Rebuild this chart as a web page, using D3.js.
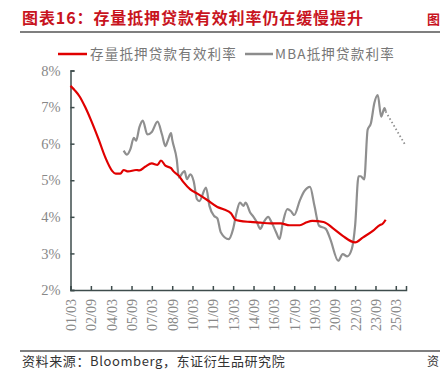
<!DOCTYPE html>
<html><head><meta charset="utf-8">
<script src="https://cdn.jsdelivr.net/npm/d3@7"></script>
<style>body{margin:0;background:#fff}svg{display:block}</style>
</head><body>
<svg id="c" width="440" height="379"></svg>
<script>
const seriesNames = ["存量抵押贷款有效利率", "MBA抵押贷款利率"];
const tickLabels = ["01/03","02/09","04/03","05/09","07/03","08/09","10/03","11/09","13/03","14/09","16/03","17/09","19/03","20/09","22/03","23/09","25/03"];
const yTicks = [2,3,4,5,6,7,8];
const effDates = ["2001-03","2001-07","2001-11","2002-04","2002-09","2003-04","2003-10","2004-04","2004-07","2004-11","2005-02","2005-06","2006-01","2006-04","2006-09","2007-03","2007-08","2007-11","2008-03","2008-08","2008-10","2009-03","2009-07","2010-01","2010-08","2011-04","2012-01","2012-07","2013-01","2013-05","2013-09","2014-06","2015-03","2015-12","2016-09","2017-05","2018-02","2018-08","2019-01","2019-11","2020-08","2021-04","2022-03","2022-10","2023-07","2024-01","2024-03","2024-06"];
const effValues = [7.58,7.45,7.29,7.0,6.65,6.11,5.61,5.25,5.18,5.18,5.28,5.24,5.28,5.27,5.37,5.46,5.42,5.54,5.40,5.33,5.25,5.12,4.95,4.75,4.62,4.46,4.27,4.2,4.10,3.92,3.89,3.86,3.84,3.82,3.82,3.77,3.77,3.85,3.89,3.86,3.67,3.48,3.30,3.44,3.62,3.78,3.80,3.92];
const mbaDates = ["2005-02","2005-05","2005-08","2005-11","2006-01","2006-04","2006-07","2006-11","2007-03","2007-08","2007-12","2008-03","2008-05","2008-08","2008-09","2009-01","2009-03","2009-06","2009-08","2009-10","2010-01","2010-04","2010-07","2010-09","2011-03","2011-06","2011-10","2012-01","2012-04","2012-11","2013-03","2013-06","2013-09","2013-12","2014-02","2014-06","2014-09","2014-12","2015-03","2015-06","2015-10","2016-01","2016-05","2016-08","2016-11","2017-03","2017-06","2017-09","2018-02","2018-06","2018-11","2019-03","2019-07","2020-01","2020-05","2020-12","2021-04","2021-08","2021-12","2022-03","2022-06","2022-08","2022-11","2023-02","2023-05","2023-08","2023-11","2024-02","2024-05","2024-06"];
const mbaValues = [5.81,5.70,5.85,6.16,6.08,6.45,6.63,6.25,6.32,6.60,6.25,5.93,6.07,6.29,6.11,5.57,5.07,5.20,5.25,5.03,5.16,4.98,4.48,4.43,4.80,4.30,4.03,3.96,3.58,3.39,3.67,4.12,4.39,4.30,4.39,4.12,4.00,3.85,3.67,3.85,4.00,3.85,3.58,3.39,3.85,4.21,4.16,4.05,4.45,4.70,4.82,4.30,3.76,3.67,3.39,2.80,2.98,2.92,3.12,3.76,5.11,5.11,5.02,6.38,6.56,7.11,7.33,6.74,6.97,6.88];
const mbaFcDates = ["2024-06","2025-11"];
const mbaFcValues = [6.88,5.98];

const parse = d3.timeParse("%Y-%m");
const svg = d3.select("#c");
const x = d3.scaleTime().domain([parse("2001-03"), parse("2025-12")]).range([70.5, 406]);
const y = d3.scaleLinear().domain([2, 8]).range([290, 70.5]);
const axisColor = "#3e4c4c";
const serif = "'Liberation Serif','DejaVu Serif',serif";
const cjk = "'Noto Sans CJK SC','Noto Sans',sans-serif";

// title
svg.append("text").attr("x", 22).attr("y", 24).attr("fill", "#c8141e")
  .attr("font-family", cjk).attr("font-weight", "bold").attr("font-size", 16).attr("letter-spacing", 0.9)
  .text("图表16：存量抵押贷款有效利率仍在缓慢提升");
svg.append("text").attr("x", 427).attr("y", 24).attr("fill", "#c8141e")
  .attr("font-family", cjk).attr("font-weight", "bold").attr("font-size", 13).text("图");
svg.append("line").attr("x1", 20).attr("x2", 440).attr("y1", 32).attr("y2", 32)
  .attr("stroke", "#555").attr("stroke-width", 1.5);

// legend
const lg = svg.append("g");
lg.append("line").attr("x1", 58).attr("x2", 87).attr("y1", 54).attr("y2", 54).attr("stroke", "#e00000").attr("stroke-width", 2.5);
lg.append("text").attr("x", 90).attr("y", 54).attr("dy", "0.35em").attr("fill", "#777").attr("font-family", cjk).attr("font-size", 13.5).attr("letter-spacing", 1.2).text(seriesNames[0]);
lg.append("line").attr("x1", 245).attr("x2", 273).attr("y1", 54).attr("y2", 54).attr("stroke", "#8c8c8c").attr("stroke-width", 2.5);
lg.append("text").attr("x", 275).attr("y", 54).attr("dy", "0.35em").attr("fill", "#777").attr("font-family", cjk).attr("font-size", 13.5).attr("letter-spacing", 1.2).text(seriesNames[1]);

// y axis
const yAxis = svg.append("g").attr("transform", "translate(70.5,0)")
  .call(d3.axisLeft(y).tickValues(yTicks).tickSize(-4).tickPadding(10).tickFormat(d => d + "%"));
yAxis.select(".domain").attr("stroke", axisColor).attr("stroke-width", 1.5);
yAxis.selectAll(".tick line").attr("stroke", axisColor).attr("stroke-width", 1.5);
yAxis.selectAll("text").attr("fill", "#888").attr("font-family", serif).attr("font-size", 14.5);

// x axis
const tickDates = tickLabels.map(s => { const [yy, mm] = s.split("/"); return parse("20" + yy + "-" + mm); });
const xAxis = svg.append("g").attr("transform", "translate(0,290)")
  .call(d3.axisBottom(x).tickValues(tickDates).tickSize(-4).tickFormat((d, i) => tickLabels[i]));
xAxis.select(".domain").attr("stroke", axisColor).attr("stroke-width", 1.5);
xAxis.selectAll(".tick line").attr("stroke", axisColor).attr("stroke-width", 1.5);
xAxis.selectAll("text").attr("fill", "#888").attr("font-family", serif).attr("font-size", 14)
  .attr("transform", "translate(0,9) rotate(-90)").attr("text-anchor", "end").attr("dy", "0.35em").attr("y", 0).attr("x", 0);

// lines
const line = d3.line().x(d => x(d[0])).y(d => y(d[1])).curve(d3.curveMonotoneX);
const mba = mbaDates.map((d, i) => [parse(d), mbaValues[i]]);
const eff = effDates.map((d, i) => [parse(d), effValues[i]]);
const fc = mbaFcDates.map((d, i) => [parse(d), mbaFcValues[i]]);
svg.append("path").datum(mba).attr("d", line).attr("fill", "none").attr("stroke", "#8f8f8f").attr("stroke-width", 2.2);
svg.append("path").datum(fc).attr("d", d3.line().x(d => x(d[0])).y(d => y(d[1]))).attr("fill", "none").attr("stroke", "#8f8f8f").attr("stroke-width", 1.8).attr("stroke-dasharray", "1.5,2.5");
svg.append("path").datum(eff).attr("d", line).attr("fill", "none").attr("stroke", "#e00000").attr("stroke-width", 2.2);

// footer
svg.append("line").attr("x1", 20).attr("x2", 440).attr("y1", 351).attr("y2", 351).attr("stroke", "#555").attr("stroke-width", 1.5);
svg.append("text").attr("x", 22).attr("y", 366).attr("fill", "#333").attr("font-family", cjk).attr("font-size", 13).attr("letter-spacing", 0.6)
  .text("资料来源：Bloomberg，东证衍生品研究院");
svg.append("text").attr("x", 427).attr("y", 366).attr("fill", "#333").attr("font-family", cjk).attr("font-size", 12).text("资");
</script>
</body></html>
